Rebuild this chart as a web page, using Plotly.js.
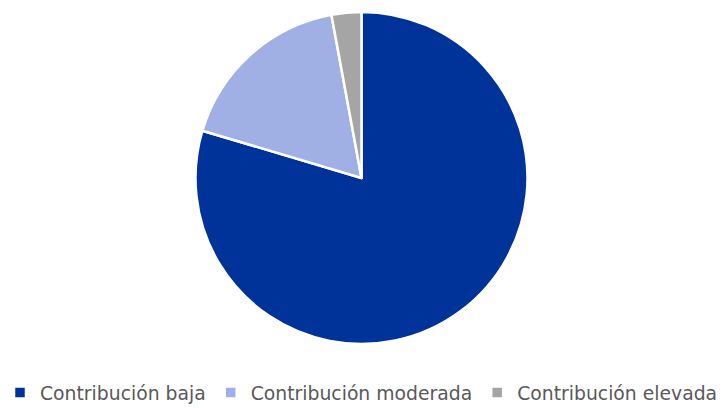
<!DOCTYPE html>
<html>
<head>
<meta charset="utf-8">
<script src="https://cdn.plot.ly/plotly-3.0.1.min.js"></script>
<style>html,body{margin:0;padding:0;background:#fff;}#chart{width:723px;height:408px;}</style>
</head>
<body>
<div id="chart"></div>
<script>
const categories = ["Contribución baja", "Contribución moderada", "Contribución elevada"];
const shares = [79.6, 17.5, 2.9];
const sliceColors = ["#003399", "#A0AFE4", "#A5A5A5"];

const trace = {
  type: "pie",
  labels: categories,
  values: shares,
  sort: false,
  direction: "clockwise",
  rotation: 0,
  textinfo: "none",
  hoverinfo: "label+percent",
  marker: { colors: sliceColors, line: { color: "#ffffff", width: 2.5 } },
  domain: { x: [0, 1], y: [0, 1] }
};

const layout = {
  width: 723,
  height: 408,
  margin: { l: 0, r: 0, t: 12, b: 64 },
  paper_bgcolor: "#ffffff",
  showlegend: true,
  legend: {
    orientation: "h",
    xref: "container",
    yref: "container",
    x: 0,
    xanchor: "left",
    y: 0.037,
    yanchor: "middle",
    font: { family: "'DejaVu Sans', sans-serif", size: 18.8, color: "#595959" },
    traceorder: "normal"
  }
};

Plotly.newPlot("chart", [trace], layout, { displayModeBar: false, staticPlot: true });
</script>
</body>
</html>
